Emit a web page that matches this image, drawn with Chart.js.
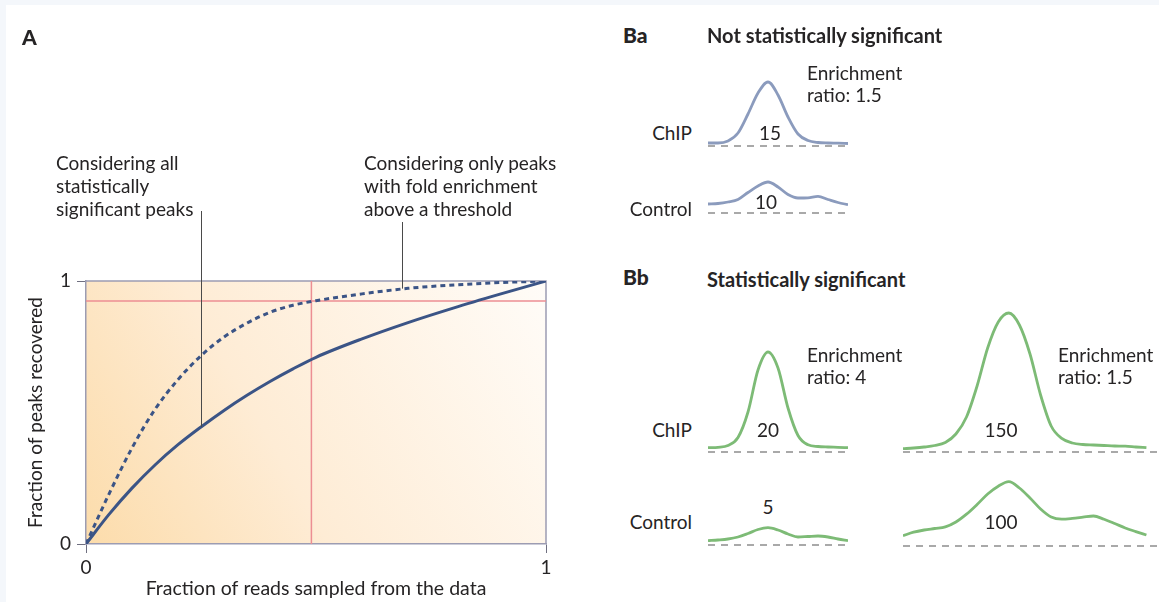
<!DOCTYPE html>
<html>
<head>
<meta charset="utf-8">
<script src="https://cdn.jsdelivr.net/npm/chart.js@4.4.1/dist/chart.umd.min.js"></script>
<style>
html, body { margin: 0; padding: 0; }
body { width: 1159px; height: 602px; background: #f4f7fb; position: relative; overflow: hidden;
       font-family: Lato, "Open Sans", sans-serif; color: #262425; }
#sheet { position: absolute; left: 6px; top: 5px; right: 0; bottom: 0; background: #fff; }
canvas { position: absolute; }
.t { position: absolute; font-size: 19px; line-height: 22px; white-space: nowrap; }
.b { font-weight: 700; font-size: 20px; }
.p { font-weight: 900; font-size: 21px; }
.r { text-align: right; }
.c { transform: translateX(-50%); }
</style>
</head>
<body>
<div id="sheet"></div>

<canvas id="chartA" width="600" height="602" style="left:0;top:0"></canvas>

<canvas id="baChip" width="146" height="75" style="left:705px;top:75px"></canvas>
<canvas id="baControl" width="146" height="40" style="left:705px;top:177px"></canvas>
<canvas id="bbChipLeft" width="146" height="110" style="left:705px;top:346px"></canvas>
<canvas id="bbControlLeft" width="146" height="30" style="left:705px;top:519px"></canvas>
<canvas id="bbChipRight" width="260" height="150" style="left:900px;top:306px"></canvas>
<canvas id="bbControlRight" width="260" height="75" style="left:900px;top:475px"></canvas>

<div class="t p" style="left:22px;top:26px">A</div>
<div class="t" style="left:56px;top:152px">Considering all</div>
<div class="t" style="left:56px;top:175px">statistically</div>
<div class="t" style="left:56px;top:198px">significant peaks</div>
<div class="t" style="left:364px;top:152px">Considering only peaks</div>
<div class="t" style="left:364px;top:175px">with fold enrichment</div>
<div class="t" style="left:364px;top:198px">above a threshold</div>

<div class="t p" style="left:623px;top:24px">Ba</div>
<div class="t b" style="left:707px;top:24px">Not statistically significant</div>
<div class="t" style="left:807px;top:62px">Enrichment</div>
<div class="t" style="left:807px;top:84px">ratio: 1.5</div>
<div class="t r" style="right:467px;top:122px">ChIP</div>
<div class="t c" style="left:770px;top:122px">15</div>
<div class="t r" style="right:467px;top:198px">Control</div>
<div class="t c" style="left:766px;top:191px">10</div>

<div class="t p" style="left:623px;top:266px">Bb</div>
<div class="t b" style="left:707px;top:268px">Statistically significant</div>
<div class="t" style="left:807px;top:344px">Enrichment</div>
<div class="t" style="left:807px;top:366px">ratio: 4</div>
<div class="t" style="left:1058px;top:344px">Enrichment</div>
<div class="t" style="left:1058px;top:366px">ratio: 1.5</div>
<div class="t r" style="right:467px;top:419px">ChIP</div>
<div class="t c" style="left:768px;top:419px">20</div>
<div class="t c" style="left:1001px;top:419px">150</div>
<div class="t r" style="right:467px;top:511px">Control</div>
<div class="t c" style="left:768px;top:496px">5</div>
<div class="t c" style="left:1001px;top:511px">100</div>

<script>
// Panel A: saturation curves
const readFraction = [0, 0.05, 0.1, 0.15, 0.2, 0.25, 0.3, 0.35, 0.4, 0.45, 0.5, 0.6, 0.7, 0.8, 0.9, 1];
const allPeaks  = [0, 0.1125, 0.2125, 0.3005, 0.3775, 0.445, 0.508, 0.5655, 0.618, 0.666, 0.71, 0.78, 0.842, 0.898, 0.95, 1];
const foldPeaks = [0, 0.19, 0.365, 0.512, 0.625, 0.716, 0.787, 0.84, 0.881, 0.908, 0.925, 0.951, 0.972, 0.985, 0.994, 1];
const thresholdRecovered = 0.924;
const thresholdSampled = 0.49;
const axisTicks = [0, 1];

// Panel B: read pile-ups (height above background, per bin)
const baChip = [3, 3, 5, 13, 32, 53, 64, 51, 29, 12, 5.5, 3.5, 3, 2.8, 2.5];
const baControl = [9, 9.5, 11, 13.5, 20.5, 27, 31, 26, 18.5, 15, 15.2, 16.6, 13.5, 10.5, 8.3];
const bbChipLeft = [4.3, 4.7, 6.5, 14.5, 40, 82, 100, 84, 44, 16.5, 7.2, 5.5, 5, 4.7, 4.3];
const bbControlLeft = [4.3, 5, 6, 8, 11.5, 15.5, 17.3, 15, 11, 8, 8.5, 9, 8, 6, 4.3];
const bbChipRight = [3.3, 4, 5, 6.5, 9.6, 18, 35, 66, 104, 130, 139, 127, 98, 57, 26, 13.6, 9, 7.5, 7, 6.5, 6, 5.8, 5, 4.3];
const bbControlRight = [10.3, 13.8, 16, 17.5, 19.1, 24, 31.8, 41.5, 52, 59.8, 64.3, 58, 48, 37, 29, 26.9, 27.6, 28.8, 30, 26.7, 22.5, 18, 14.4, 11];

const textColor = '#262425';
const curveColor = '#3b5486';
const redLine = '#ec8e93';
const slate = '#8b9bbd';
const green = '#7dbb76';

Chart.defaults.font.family = 'Lato, "Open Sans", sans-serif';
Chart.defaults.color = textColor;

const panelBackground = {
    id: 'panelBackground',
    beforeDraw(chart) {
        const { ctx, chartArea: a } = chart;
        const g = ctx.createLinearGradient(a.left, a.bottom, a.right, a.top);
        g.addColorStop(0, '#fcdcab');
        g.addColorStop(0.4, '#feecd5');
        g.addColorStop(1, '#fffcf8');
        ctx.save();
        ctx.fillStyle = g;
        ctx.fillRect(a.left, a.top, a.right - a.left, a.bottom - a.top);
        ctx.restore();
    },
    beforeDatasetsDraw(chart) {
        const { ctx, chartArea: a } = chart;
        ctx.save();
        ctx.strokeStyle = '#9c9cb2';
        ctx.lineWidth = 1.5;
        ctx.beginPath();
        ctx.moveTo(a.left, a.top);
        ctx.lineTo(a.right, a.top);
        ctx.lineTo(a.right, a.bottom);
        ctx.stroke();
        ctx.restore();
    }
};

// leader lines from the annotation texts down to the curves
const leaders = {
    id: 'leaders',
    afterDatasetsDraw(chart) {
        const { ctx, scales } = chart;
        const targets = [
            { x: 0.25, y: allPeaks[5], top: 211 },
            { x: 0.688, y: 0.971, top: 222 }
        ];
        ctx.save();
        ctx.strokeStyle = '#4a4a4a';
        ctx.lineWidth = 1;
        targets.forEach(t => {
            const px = Math.round(scales.x.getPixelForValue(t.x)) + 0.5;
            ctx.beginPath();
            ctx.moveTo(px, t.top);
            ctx.lineTo(px, scales.y.getPixelForValue(t.y));
            ctx.stroke();
        });
        ctx.restore();
    }
};

const tickFont = { size: 19 };

new Chart(document.getElementById('chartA'), {
    type: 'line',
    data: {
        datasets: [
            {
                data: readFraction.map((x, i) => ({ x, y: allPeaks[i] })),
                borderColor: curveColor, borderWidth: 3, pointRadius: 0,
                cubicInterpolationMode: 'monotone'
            },
            {
                data: readFraction.map((x, i) => ({ x, y: foldPeaks[i] })),
                borderColor: curveColor, borderWidth: 3, borderDash: [5, 4], pointRadius: 0,
                cubicInterpolationMode: 'monotone'
            },
            {
                data: [{ x: 0, y: thresholdRecovered }, { x: 1, y: thresholdRecovered }],
                borderColor: redLine, borderWidth: 1.5, pointRadius: 0
            },
            {
                data: [{ x: thresholdSampled, y: 0 }, { x: thresholdSampled, y: 1 }],
                borderColor: redLine, borderWidth: 1.5, pointRadius: 0
            }
        ]
    },
    options: {
        responsive: false,
        animation: false,
        events: [],
        layout: { padding: { left: 0, top: 281, right: 54, bottom: 0 } },
        plugins: { legend: { display: false }, tooltip: { enabled: false } },
        scales: {
            x: {
                type: 'linear', min: 0, max: 1,
                afterBuildTicks: s => { s.ticks = axisTicks.map(v => ({ value: v })); },
                ticks: { font: tickFont, padding: 3, color: textColor },
                grid: { drawOnChartArea: false, tickLength: 9, color: '#6f6f80' },
                border: { color: '#9c9cb2', width: 1.5 },
                title: { display: true, text: 'Fraction of reads sampled from the data', font: { size: 19.5 },
                         color: textColor, padding: { top: 0, bottom: 2 } },
                afterFit: s => { s.height = 58; }
            },
            y: {
                type: 'linear', min: 0, max: 1,
                afterBuildTicks: s => { s.ticks = axisTicks.map(v => ({ value: v })); },
                ticks: { font: tickFont, padding: 6, color: textColor },
                grid: { drawOnChartArea: false, tickLength: 9, color: '#6f6f80' },
                border: { color: '#9c9cb2', width: 1.5 },
                title: { display: true, text: 'Fraction of peaks recovered', font: tickFont,
                         color: textColor, padding: { top: 24, bottom: 0 } },
                afterFit: s => { s.width = 86; }
            }
        }
    },
    plugins: [panelBackground, leaders]
});

function peakChart(id, values, color, spanBins) {
    const canvas = document.getElementById(id);
    new Chart(canvas, {
        type: 'line',
        data: {
            datasets: [
                {
                    data: values.map((v, i) => ({ x: i, y: v })),
                    borderColor: color, borderWidth: 2.8, pointRadius: 0,
                    cubicInterpolationMode: 'monotone'
                },
                {
                    data: [{ x: 0, y: 0 }, { x: spanBins, y: 0 }],
                    borderColor: '#8d8d8d', borderWidth: 1.5, borderDash: [7, 6], pointRadius: 0
                }
            ]
        },
        options: {
            responsive: false,
            animation: false,
            events: [],
            layout: { padding: { left: 3, right: 3, top: 0, bottom: 0 } },
            plugins: { legend: { display: false }, tooltip: { enabled: false } },
            scales: {
                x: { type: 'linear', display: false, min: 0, max: spanBins },
                y: { display: false, min: -4, max: canvas.height - 4 }
            }
        }
    });
}

peakChart('baChip', baChip, slate, 14);
peakChart('baControl', baControl, slate, 14);
peakChart('bbChipLeft', bbChipLeft, green, 14);
peakChart('bbControlLeft', bbControlLeft, green, 14);
peakChart('bbChipRight', bbChipRight, green, 24);
peakChart('bbControlRight', bbControlRight, green, 24);
</script>
</body>
</html>
